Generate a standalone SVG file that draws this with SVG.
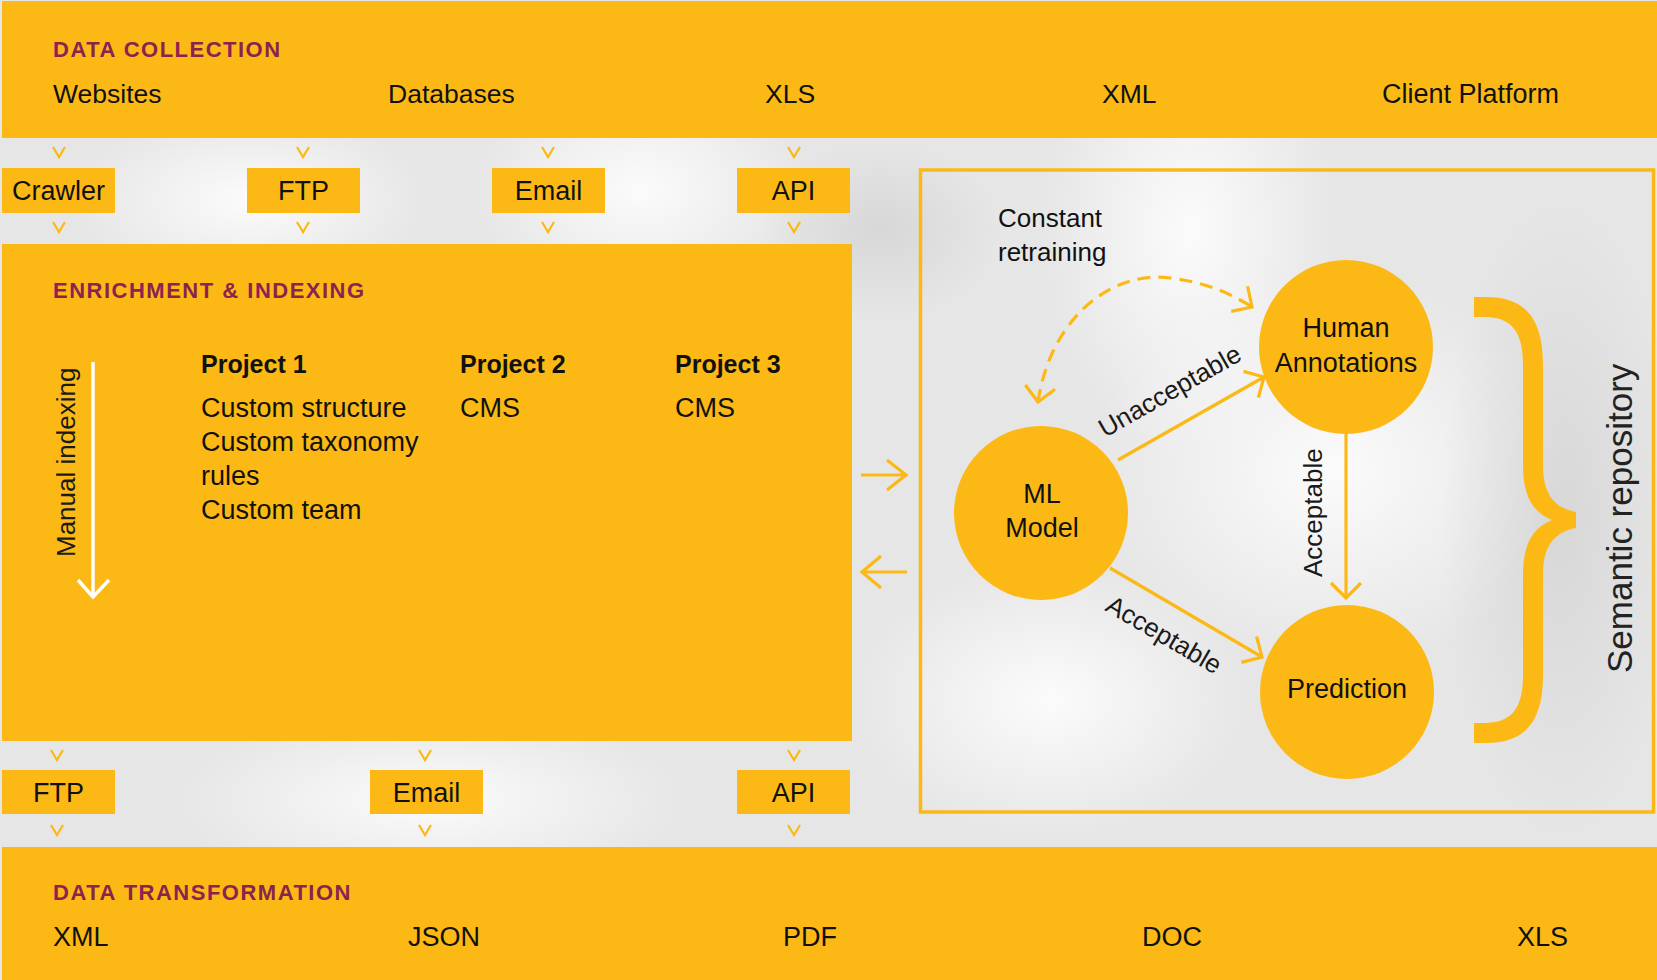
<svg xmlns="http://www.w3.org/2000/svg" width="1657" height="980" viewBox="0 0 1657 980">
<defs>
<style>
.band{fill:#FCB916}
.box{fill:#FCB916}
.lbl{font-family:"Liberation Sans",Arial,sans-serif;font-size:27px;fill:#111}
.top{font-size:26.5px}
.ctr{text-anchor:middle}
.head{font-family:"Liberation Sans",Arial,sans-serif;font-size:22px;font-weight:bold;letter-spacing:1.5px;fill:#8A2350}
.proj{font-family:"Liberation Sans",Arial,sans-serif;font-size:25px;font-weight:bold;fill:#111}
.rot{font-family:"Liberation Sans",Arial,sans-serif;font-size:26px;fill:#1a1a1a}
.chev{fill:none;stroke:#FCB916;stroke-width:2.2}
.conn{fill:none;stroke:#FCB916;stroke-width:3.2}
.circ{fill:#FCB916}
</style>
<path id="chv" d="M-6,-5 L0,5 L6,-5"/>
<marker id="ah" markerUnits="userSpaceOnUse" viewBox="0 0 40 40" markerWidth="40" markerHeight="40" refX="30" refY="20" orient="auto-start-reverse" overflow="visible">
<path d="M15,5 L30,20 L15,35" fill="none" stroke="#FCB916" stroke-width="3.2" stroke-dasharray="none"/>
</marker>
<radialGradient id="glow" cx="0.5" cy="0.5" r="0.5">
<stop offset="0" stop-color="#ffffff" stop-opacity="0.85"/>
<stop offset="1" stop-color="#ffffff" stop-opacity="0"/>
</radialGradient>
<radialGradient id="shade" cx="0.5" cy="0.5" r="0.5">
<stop offset="0" stop-color="#c8c8c8" stop-opacity="0.5"/>
<stop offset="1" stop-color="#c8c8c8" stop-opacity="0"/>
</radialGradient>
</defs>

<!-- background -->
<rect x="0" y="0" width="1657" height="980" fill="#e6e6e6"/>
<ellipse cx="640" cy="190" rx="170" ry="120" fill="url(#glow)"/>
<ellipse cx="1190" cy="230" rx="150" ry="230" fill="url(#glow)"/>
<ellipse cx="1330" cy="470" rx="240" ry="200" fill="url(#glow)"/>
<ellipse cx="250" cy="200" rx="180" ry="90" fill="url(#glow)"/>
<ellipse cx="430" cy="800" rx="260" ry="90" fill="url(#glow)"/>
<ellipse cx="1050" cy="700" rx="200" ry="140" fill="url(#glow)"/>
<ellipse cx="1560" cy="520" rx="120" ry="320" fill="url(#shade)"/>
<ellipse cx="880" cy="230" rx="120" ry="90" fill="url(#shade)"/>

<!-- bands -->
<g id="data-collection">
<rect class="band" x="2" y="1" width="1655" height="137"/>
<text class="head" x="53" y="57">DATA COLLECTION</text>
<text class="lbl top" x="53" y="103">Websites</text>
<text class="lbl top" x="388" y="103">Databases</text>
<text class="lbl top" x="765" y="103">XLS</text>
<text class="lbl top" x="1102" y="103">XML</text>
<text class="lbl" x="1382" y="103">Client Platform</text>
</g>

<g id="in-crawler"><rect class="box" x="2" y="168" width="113" height="45"/><text class="lbl ctr" x="58.5" y="200">Crawler</text></g>
<g id="in-ftp"><rect class="box" x="247" y="168" width="113" height="45"/><text class="lbl ctr" x="303.5" y="200">FTP</text></g>
<g id="in-email"><rect class="box" x="492" y="168" width="113" height="45"/><text class="lbl ctr" x="548.5" y="200">Email</text></g>
<g id="in-api"><rect class="box" x="737" y="168" width="113" height="45"/><text class="lbl ctr" x="793.5" y="200">API</text></g>

<g id="enrichment">
<rect class="band" x="2" y="244" width="850" height="497"/>
<text class="head" x="53" y="298">ENRICHMENT &amp; INDEXING</text>
<text class="rot" transform="translate(75,557) rotate(-90)">Manual indexing</text>
<line x1="93" y1="362" x2="93" y2="596" stroke="#fff" stroke-width="3.5"/>
<path d="M78,580 L93,597 L109,580" fill="none" stroke="#fff" stroke-width="3.5"/>
<text class="proj" x="201" y="373">Project 1</text>
<text class="lbl" x="201" y="417">Custom structure</text>
<text class="lbl" x="201" y="451">Custom taxonomy</text>
<text class="lbl" x="201" y="485">rules</text>
<text class="lbl" x="201" y="519">Custom team</text>
<text class="proj" x="460" y="373">Project 2</text>
<text class="lbl" x="460" y="417">CMS</text>
<text class="proj" x="675" y="373">Project 3</text>
<text class="lbl" x="675" y="417">CMS</text>
</g>

<g id="out-ftp"><rect class="box" x="2" y="770" width="113" height="44"/><text class="lbl ctr" x="58.5" y="802">FTP</text></g>
<g id="out-email"><rect class="box" x="370" y="770" width="113" height="44"/><text class="lbl ctr" x="426.5" y="802">Email</text></g>
<g id="out-api"><rect class="box" x="737" y="770" width="113" height="44"/><text class="lbl ctr" x="793.5" y="802">API</text></g>

<g id="data-transformation">
<rect class="band" x="2" y="847" width="1655" height="133"/>
<text class="head" x="53" y="900">DATA TRANSFORMATION</text>
<text class="lbl" x="53" y="946">XML</text>
<text class="lbl" x="408" y="946">JSON</text>
<text class="lbl" x="783" y="946">PDF</text>
<text class="lbl" x="1142" y="946">DOC</text>
<text class="lbl" x="1517" y="946">XLS</text>
</g>

<!-- semantic repository frame -->
<g id="semantic-repository">
<rect x="920.5" y="170" width="733" height="642" fill="none" stroke="#FCB916" stroke-width="3.5"/>
<text class="lbl" x="998" y="227" style="font-size:26px">Constant</text>
<text class="lbl" x="998" y="261" style="font-size:26px">retraining</text>
<path d="M1474,297 H1486 C1525,297 1543,318 1543,365 V465 C1543,495 1555,508 1576,512 V528 C1555,532 1543,545 1543,575 V675 C1543,722 1525,743 1486,743 H1474 V723 H1484 C1512,723 1523,708 1523,675 V575 C1523,545 1532,528 1552,520 C1532,512 1523,495 1523,465 V365 C1523,332 1512,317 1484,317 H1474 Z" fill="#FCB916"/>
<text class="rot" transform="translate(1632,673) rotate(-90)" style="font-size:35px;fill:#222">Semantic repository</text>
</g>

<g id="human-annotations">
<circle class="circ" cx="1346" cy="347" r="87"/>
<text class="lbl ctr" x="1346" y="337">Human</text>
<text class="lbl ctr" x="1346" y="372">Annotations</text>
</g>
<g id="ml-model">
<circle class="circ" cx="1041" cy="513" r="87"/>
<text class="lbl ctr" x="1042" y="503">ML</text>
<text class="lbl ctr" x="1042" y="537">Model</text>
</g>
<g id="prediction">
<circle class="circ" cx="1347" cy="692" r="87"/>
<text class="lbl ctr" x="1347" y="698">Prediction</text>
</g>

<!-- connectors -->
<g id="connectors">
<g class="chev">
<use href="#chv" x="59" y="152"/><use href="#chv" x="303" y="152"/><use href="#chv" x="548" y="152"/><use href="#chv" x="794" y="152"/>
<use href="#chv" x="59" y="227"/><use href="#chv" x="303" y="227"/><use href="#chv" x="548" y="227"/><use href="#chv" x="794" y="227"/>
<use href="#chv" x="57" y="755"/><use href="#chv" x="425" y="755"/><use href="#chv" x="794" y="755"/>
<use href="#chv" x="57" y="830"/><use href="#chv" x="425" y="830"/><use href="#chv" x="794" y="830"/>
</g>
<path class="conn" d="M861,475 H905 M887,460 L906,475 L887,490"/>
<path class="conn" d="M862,572 H907 M881,556 L862,572 L881,588"/>
<line class="conn" x1="1118" y1="460" x2="1264" y2="377" marker-end="url(#ah)"/>
<line class="conn" x1="1110" y1="568" x2="1262" y2="657" marker-end="url(#ah)"/>
<line class="conn" x1="1346" y1="434" x2="1346" y2="598" marker-end="url(#ah)"/>
<path class="conn" d="M1038,402 C1050,320 1110,270 1170,278 C1205,282 1232,294 1252,307" stroke-dasharray="13 8" marker-start="url(#ah)" marker-end="url(#ah)"/>
<text class="rot" transform="translate(1105,438) rotate(-29.6)">Unacceptable</text>
<text class="rot" transform="translate(1104,610) rotate(30.3)">Acceptable</text>
<text class="rot" transform="translate(1322,577) rotate(-90)">Acceptable</text>
</g>
</svg>
